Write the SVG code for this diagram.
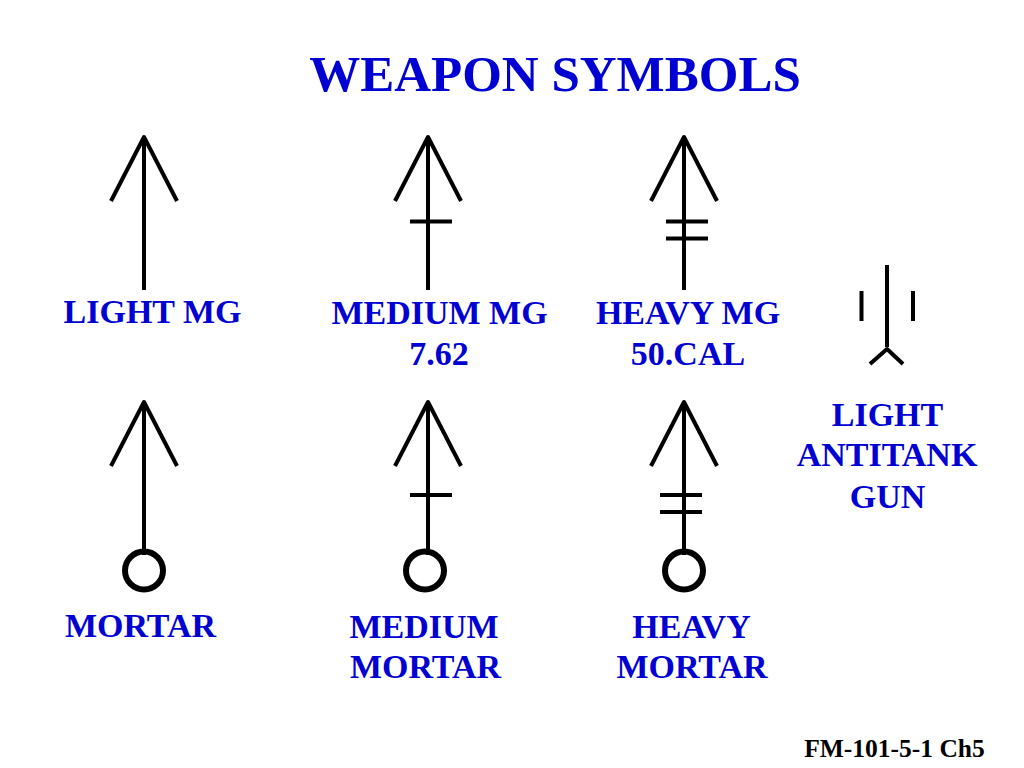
<svg xmlns="http://www.w3.org/2000/svg" width="1024" height="768" viewBox="0 0 1024 768">
<style>
.s{fill:none;stroke:#000;stroke-width:4;stroke-linejoin:round}
.c{fill:none;stroke:#000;stroke-width:6}
text{font-family:"Liberation Serif","Times New Roman",serif;font-weight:bold;fill:#0000d2;text-anchor:middle}
.l{font-size:34px}
</style>
<defs>
<path id="arrow" class="s" d="M-33 64L0 0L33 64M0 0V153"/>
</defs>
<rect width="1024" height="768" fill="#fff"/>
<text x="555" y="91" font-size="51">WEAPON SYMBOLS</text>
<g id="connectors"></g>
<g id="light-mg"><use href="#arrow" x="144" y="137"/><text class="l" x="152.500" y="323">LIGHT MG</text></g>
<g id="medium-mg"><use href="#arrow" x="428" y="137"/><path class="s" d="M410 221.500H452"/><text class="l" x="439.500" y="324">MEDIUM MG</text><text class="l" x="439" y="365">7.62</text></g>
<g id="heavy-mg"><use href="#arrow" x="684" y="137"/><path class="s" d="M666 221.500H708M666 238.500H708"/><text class="l" x="688" y="324">HEAVY MG</text><text class="l" x="688" y="365">50.CAL</text></g>
<g id="light-antitank-gun"><path class="s" d="M887 265V347M861.500 291V321M913 291V321M870 364L887 349L903 364"/><text class="l" x="887.500" y="426">LIGHT</text><text class="l" x="887" y="466">ANTITANK</text><text class="l" x="887.500" y="508">GUN</text></g>
<g id="mortar"><use href="#arrow" x="144" y="402" /><circle class="c" cx="144" cy="570.500" r="19"/><text class="l" x="140.500" y="637">MORTAR</text></g>
<g id="medium-mortar"><use href="#arrow" x="428" y="402"/><path class="s" d="M410 495H452"/><circle class="c" cx="425" cy="570.500" r="19"/><text class="l" x="424" y="638">MEDIUM</text><text class="l" x="425.500" y="678">MORTAR</text></g>
<g id="heavy-mortar"><use href="#arrow" x="684" y="402"/><path class="s" d="M660 495H702M660 512H702"/><circle class="c" cx="684" cy="570.500" r="19"/><text class="l" x="691.500" y="638">HEAVY</text><text class="l" x="692" y="678">MORTAR</text></g>
<text id="source" x="894.500" y="757" font-size="25.500" style="fill:#000">FM-101-5-1 Ch5</text>
</svg>
